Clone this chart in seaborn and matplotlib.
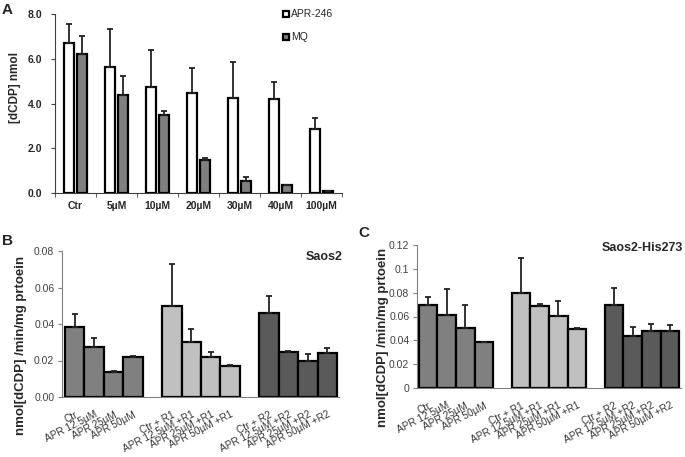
import numpy as np
import pandas as pd
import matplotlib
matplotlib.use("Agg")
import matplotlib.pyplot as plt
import seaborn as sns
from matplotlib.lines import Line2D

sns.set_style("white")
plt.rcParams['font.family'] = ['Liberation Sans', 'DejaVu Sans']

# ---------------- Panel A data ----------------
a_conc = ["Ctr", "5µM", "10µM", "20µM", "30µM", "40µM", "100µM"]
a_apr = [6.70, 5.64, 4.73, 4.45, 4.25, 4.19, 2.87]
a_apr_err = [0.85, 1.69, 1.66, 1.15, 1.62, 0.78, 0.49]
a_mq = [6.21, 4.36, 3.48, 1.49, 0.52, 0.37, 0.07]
a_mq_err = [0.82, 0.85, 0.19, 0.08, 0.21, 0.0, 0.0]
a_yticks = ["0.0", "2.0", "4.0", "6.0", "8.0"]

# ---------------- Panels B / C data ----------------
bc_labels = [
    ["Ctr", "APR 12.5µM", "APR 25µM", "APR 50µM"],
    ["Ctr + R1", "APR 12.5µM +R1", "APR 25µM +R1", "APR 50µM +R1"],
    ["Ctr + R2", "APR 12.5µM +R2", "APR 25µM +R2", "APR 50µM +R2"],
]
group_names = ["none", "R1", "R2"]
group_colors = {"none": "#808080", "R1": "#c0c0c0", "R2": "#5a5a5a"}

b_vals = [[0.0385, 0.0276, 0.0135, 0.0221],
          [0.0500, 0.0303, 0.0219, 0.0170],
          [0.0458, 0.0248, 0.0199, 0.0243]]
b_err = [[0.0072, 0.0049, 0.0009, 0.0005],
         [0.0231, 0.0071, 0.0026, 0.0004],
         [0.0095, 0.0006, 0.0035, 0.0025]]
b_yticks = ["0.00", "0.02", "0.04", "0.06", "0.08"]

c_vals = [[0.0694, 0.0615, 0.0506, 0.0386],
          [0.0797, 0.0685, 0.0601, 0.0492],
          [0.0694, 0.0439, 0.0481, 0.0481]]
c_err = [[0.0070, 0.0213, 0.0193, 0.0],
         [0.0291, 0.0023, 0.0126, 0.0009],
         [0.0145, 0.0073, 0.0059, 0.0048]]
c_yticks = ["0", "0.02", "0.04", "0.06", "0.08", "0.1", "0.12"]

fig = plt.figure(figsize=(6.85, 4.57), dpi=100)
W, H = 685, 457


def axes_px(left, right, top, bottom):
    return fig.add_axes([left / W, (H - bottom) / H, (right - left) / W, (bottom - top) / H])


# ---------------- Panel A ----------------
axA = axes_px(55, 342, 14, 193)
dfA = pd.DataFrame({
    "conc": a_conc * 2,
    "val": a_apr + a_mq,
    "drug": ["APR-246"] * len(a_conc) + ["MQ"] * len(a_conc),
})
sns.barplot(data=dfA, x="conc", y="val", hue="drug", order=a_conc,
            palette={"APR-246": "white", "MQ": "#808080"}, width=0.64, gap=0.18,
            edgecolor="black", linewidth=1.6, legend=False, ax=axA, errorbar=None)
for cont, errs in zip(axA.containers, [a_apr_err, a_mq_err]):
    xs = [p.get_x() + p.get_width() / 2 for p in cont]
    ys = [p.get_height() for p in cont]
    axA.errorbar(xs, ys, yerr=[np.zeros(len(errs)), errs], fmt="none",
                 ecolor="#222222", elinewidth=1.3, capsize=2.5, capthick=1.3, zorder=1)
axA.set_xlim(-0.5, 6.5)
axA.set_ylim(0, 8)
axA.set_yticks(np.arange(0, 8.1, 2))
axA.set_yticklabels(a_yticks, fontsize=7.5, fontweight="bold")
axA.set_xticks(range(len(a_conc)))
axA.set_xticklabels(a_conc, fontsize=7.5, fontweight="bold")
axA.set_xticks(np.arange(-0.5, 6.6, 1), minor=True)
axA.tick_params(axis="x", which="major", length=0, pad=6)
axA.tick_params(axis="x", which="minor", length=3, direction="out", color="#404040", bottom=True)
axA.tick_params(axis="y", length=3, direction="out", color="#404040", left=True, pad=6)
axA.set_xlabel("")
axA.set_ylabel("[dCDP] nmol", fontsize=8.5, fontweight="bold")
axA.yaxis.set_label_coords(-0.118, 0.59)
for s in ["top", "right"]:
    axA.spines[s].set_visible(False)
for s in ["left", "bottom"]:
    axA.spines[s].set_color("#404040")
handles = [Line2D([], [], marker="s", ls="none", markersize=5, markerfacecolor=c,
                  markeredgecolor="black", markeredgewidth=1.6)
           for c in ["white", "#808080"]]
axA.legend(handles, ["APR-246", "MQ"], loc="upper left", bbox_to_anchor=(0.78, 1.05),
           frameon=False, fontsize=7.5, handlelength=0.6, handletextpad=0.15,
           labelspacing=1.25, borderaxespad=0)
fig.text(2 / W, 1 - 14 / H, "A", fontsize=11, fontweight="bold")


# ---------------- Panels B / C ----------------
def panel_bc(ax, vals, errs, yticks, ymax, title, title_xy, ylabel_xy):
    order, labs, grp, v = [], [], [], []
    for gi, (labels, gvals) in enumerate(zip(bc_labels, vals)):
        if gi > 0:
            order.append(" " * gi)
        order.extend(labels)
        labs.extend(labels)
        grp.extend([group_names[gi]] * len(labels))
        v.extend(gvals)
    df = pd.DataFrame({"label": labs, "group": grp, "val": v})
    sns.barplot(data=df, x="label", y="val", hue="group", order=order, dodge=False,
                palette=group_colors, width=1.0, edgecolor="black", linewidth=1.6,
                legend=False, ax=ax, errorbar=None)
    flat_err = [e for g in errs for e in g]
    xs = [order.index(l) for l in labs]
    ax.errorbar(xs, v, yerr=[np.zeros(len(flat_err)), flat_err], fmt="none",
                ecolor="#222222", elinewidth=1.3, capsize=2.5, capthick=1.3, zorder=1)
    ax.set_ylim(0, ymax)
    ax.set_yticks(np.linspace(0, ymax, len(yticks)))
    ax.set_yticklabels(yticks, fontsize=7.5, color="#404040")
    ax.set_xticks(range(len(order)))
    ax.set_xticklabels(order, rotation=27, ha="right", rotation_mode="anchor",
                       fontsize=7.2, color="#333333")
    ax.tick_params(axis="x", length=0, pad=9)
    ax.tick_params(axis="y", length=3, direction="out", color="#808080", left=True, pad=2.5)
    ax.set_xlabel("")
    ax.set_ylabel("nmol[dCDP] /min/mg prtoein", fontsize=9.5, fontweight="bold")
    ax.yaxis.set_label_coords(*ylabel_xy)
    for s in ["top", "right"]:
        ax.spines[s].set_visible(False)
    for s in ["left", "bottom"]:
        ax.spines[s].set_color("#808080")
    ax.text(title_xy[0], title_xy[1], title, transform=ax.transAxes, ha="right", va="center",
            fontsize=9, fontweight="bold")


axB = axes_px(62, 339, 251, 397)
panel_bc(axB, b_vals, b_err, b_yticks, 0.08, "Saos2", (1.011, 0.959), (-0.126, 0.356))
axB.set_xlim(-0.65, 13.6)
fig.text(2 / W, 1 - 245 / H, "B", fontsize=11, fontweight="bold")

axC = axes_px(417, 681, 245, 388)
panel_bc(axC, c_vals, c_err, c_yticks, 0.12, "Saos2-His273", (1.008, 0.979), (-0.105, 0.353))
axC.set_xlim(-0.6, 13.6)
fig.text(358 / W, 1 - 237 / H, "C", fontsize=11, fontweight="bold")

fig.savefig("out.png", dpi=100)
